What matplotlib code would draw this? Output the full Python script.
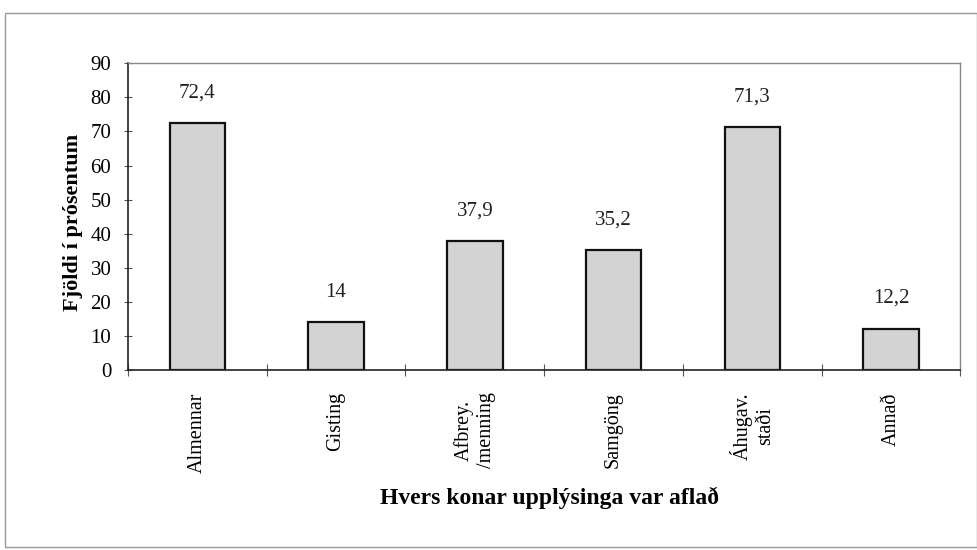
import matplotlib
matplotlib.use("Agg")
import matplotlib.pyplot as plt
from matplotlib.patches import Rectangle

categories = ["Almennar", "Gisting", "Afbrey.\n/menning", "Samgöng", "Áhugav.\nstaði", "Annað"]
values = [72.4, 14, 37.9, 35.2, 71.3, 12.2]
value_labels = ["72,4", "14", "37,9", "35,2", "71,3", "12,2"]
yticks = [0, 10, 20, 30, 40, 50, 60, 70, 80, 90]

plt.rcParams['font.family'] = ['Liberation Serif', 'DejaVu Serif']

fig = plt.figure(figsize=(9.77, 5.5), dpi=100)
ax = fig.add_axes([0.131, 0.327, 0.852, 0.558])

x = list(range(len(categories)))
ax.bar(x, values, width=0.4, color='#d3d3d3', edgecolor='#111111', linewidth=1.6, zorder=2)
for xi, v, lab in zip(x, values, value_labels):
    ax.text(xi, v + 8.8, lab, ha='center', va='center', fontsize=15, color='#222222')

ax.set_xlim(-0.5, len(categories) - 0.5)
ax.set_ylim(0, 90)
ax.set_yticks(yticks)
ax.set_yticklabels([str(t) for t in yticks], fontsize=15)
ax.set_xticks([i - 0.5 for i in range(len(categories) + 1)])
ax.set_xticklabels([])
ax.set_xticks(x, minor=True)
ax.set_xticklabels(categories, minor=True, rotation=90, fontsize=14.5, ha='center', va='top',
                   multialignment='center')
ax.tick_params(axis='x', which='minor', length=0, pad=16)
ax.tick_params(axis='x', which='major', direction='inout', length=8, color='#555555')
ax.tick_params(axis='y', direction='inout', length=6, color='#555555', pad=9)

for s in ['left', 'bottom']:
    ax.spines[s].set_color('#222222')
    ax.spines[s].set_linewidth(1.2)
for s in ['top', 'right']:
    ax.spines[s].set_color('#888888')
    ax.spines[s].set_linewidth(1.0)

ax.set_ylabel("Fjöldi í prósentum", fontsize=16, fontweight='bold')
ax.yaxis.set_label_coords(-0.054, 0.48)
fig.text(0.563, 0.095, "Hvers konar upplýsinga var aflað", ha='center', va='center',
         fontsize=17, fontweight='bold')

fig.patches.append(Rectangle((0.005, 0.005), 0.995, 0.972, transform=fig.transFigure,
                             fill=False, edgecolor='#999999', linewidth=1.0))

fig.savefig("out.png", dpi=100)
